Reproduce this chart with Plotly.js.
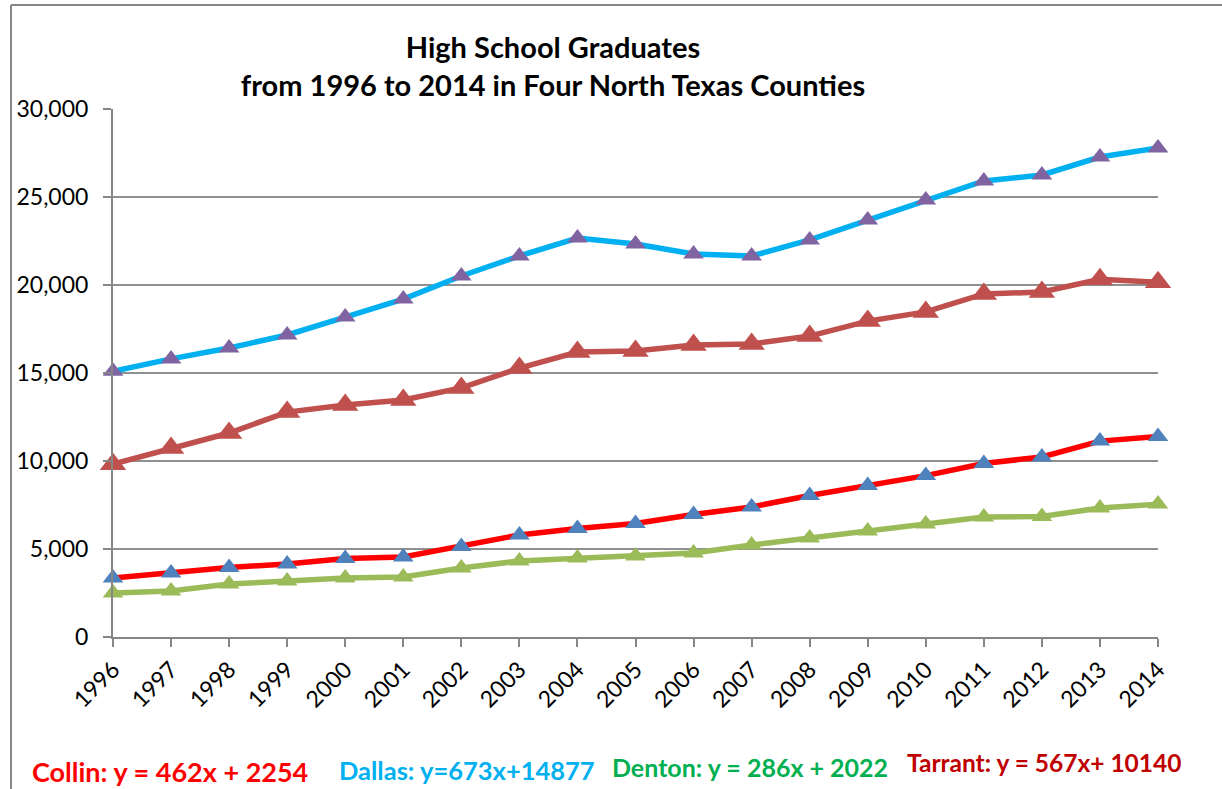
<!DOCTYPE html>
<html>
<head>
<meta charset="utf-8">
<script src="https://cdn.plot.ly/plotly-3.0.1.min.js"></script>
<style>
html,body{margin:0;padding:0;background:#fff;}
#chart{width:1222px;height:789px;}
</style>
</head>
<body>
<div id="chart"></div>
<script>
const years = [1996,1997,1998,1999,2000,2001,2002,2003,2004,2005,2006,2007,2008,2009,2010,2011,2012,2013,2014];
const dallas = [15100,15800,16420,17160,18180,19200,20510,21650,22670,22330,21760,21650,22560,23690,24830,25910,26250,27270,27780];
const tarrant = [9820,10740,11590,12780,13180,13470,14150,15280,16190,16250,16590,16650,17100,17950,18470,19490,19600,20320,20150];
const collin = [3350,3640,3950,4150,4460,4550,5140,5800,6170,6450,6960,7390,8040,8610,9170,9860,10230,11130,11390];
const denton = [2500,2610,3010,3180,3350,3410,3920,4320,4490,4600,4770,5230,5620,6020,6420,6820,6850,7330,7550];
const yTicks = [0,5000,10000,15000,20000,25000,30000];
const yTickText = ['0','5,000','10,000','15,000','20,000','25,000','30,000'];
const eqText = ['Collin: y = 462x + 2254','Dallas: y=673x+14877','Denton: y = 286x + 2022','Tarrant: y = 567x+ 10140'];

function series(name, y, lineColor, markerColor, msize){
  return {x: years, y: y, name: name, type: 'scatter', mode: 'lines+markers',
    line: {color: lineColor, width: 5.5},
    marker: {symbol: 'triangle-up', size: msize, color: markerColor},
    cliponaxis: false, hoverinfo: 'x+y'};
}

const data = [
  series('Dallas', dallas, '#00B0F0', '#8064A2', 18),
  series('Tarrant', tarrant, '#C0504D', '#C0504D', 23),
  series('Collin', collin, '#FF0000', '#4F81BD', 18),
  series('Denton', denton, '#9BBB59', '#9BBB59', 18)
];

const L = 113, R = 1158, T = 109, B = 637, W = 1222, H = 789;
const px = v => (v - L) / (R - L);
const py = v => (B - v) / (B - T);

const layout = {
  width: W, height: H,
  margin: {l: L, r: W - R, t: T, b: H - B, pad: 0},
  paper_bgcolor: '#ffffff', plot_bgcolor: '#ffffff',
  showlegend: false,
  font: {family: 'Lato, "Open Sans", sans-serif', color: '#000'},
  title: {
    text: '<b>High School Graduates<br>from 1996 to 2014 in Four North Texas Counties</b>',
    font: {size: 29, color: '#000', family: 'Lato, sans-serif'},
    x: 553 / W, xref: 'container', xanchor: 'center',
    y: 1 - 58 / H, yref: 'container', yanchor: 'middle'
  },
  xaxis: {
    type: 'linear', range: [1996, 2014],
    tickmode: 'array', tickvals: years, ticktext: years.map(String),
    tickangle: -45, ticks: 'outside', ticklen: 8, tickwidth: 2, tickcolor: '#868686',
    showline: true, linecolor: '#868686', linewidth: 2,
    showgrid: false, zeroline: false,
    tickfont: {size: 23, color: '#000'}
  },
  yaxis: {
    range: [0, 30000],
    tickmode: 'array', tickvals: yTicks, ticktext: yTickText,
    ticks: 'outside', ticklen: 8, tickwidth: 2, tickcolor: '#868686',
    showline: true, linecolor: '#868686', linewidth: 2,
    showgrid: true, gridcolor: '#909090', gridwidth: 2,
    zeroline: false, ticklabelstandoff: 10,
    tickfont: {size: 23, color: '#000'}
  },
  shapes: [
    {type: 'line', xref: 'paper', yref: 'paper', x0: px(11), x1: px(11), y0: py(5), y1: py(789), line: {color: '#868686', width: 2}},
    {type: 'line', xref: 'paper', yref: 'paper', x0: px(11), x1: px(1222), y0: py(5), y1: py(5), line: {color: '#868686', width: 2}}
  ],
  annotations: [
    {text: '<b>' + eqText[0] + '</b>', xref: 'paper', yref: 'paper', x: px(30), y: py(771), xanchor: 'left', yanchor: 'middle', showarrow: false, font: {size: 27, color: '#FF0000', family: 'Lato, sans-serif'}},
    {text: '<b>' + eqText[1] + '</b>', xref: 'paper', yref: 'paper', x: px(337), y: py(770), xanchor: 'left', yanchor: 'middle', showarrow: false, font: {size: 25.5, color: '#00B0F0', family: 'Lato, sans-serif'}},
    {text: '<b>' + eqText[2] + '</b>', xref: 'paper', yref: 'paper', x: px(610), y: py(767), xanchor: 'left', yanchor: 'middle', showarrow: false, font: {size: 25, color: '#00B050', family: 'Lato, sans-serif'}},
    {text: '<b>' + eqText[3] + '</b>', xref: 'paper', yref: 'paper', x: px(905), y: py(762), xanchor: 'left', yanchor: 'middle', showarrow: false, font: {size: 24.5, color: '#C00000', family: 'Lato, sans-serif'}}
  ]
};

Plotly.newPlot('chart', data, layout, {displayModeBar: false, staticPlot: true});
</script>
</body>
</html>
